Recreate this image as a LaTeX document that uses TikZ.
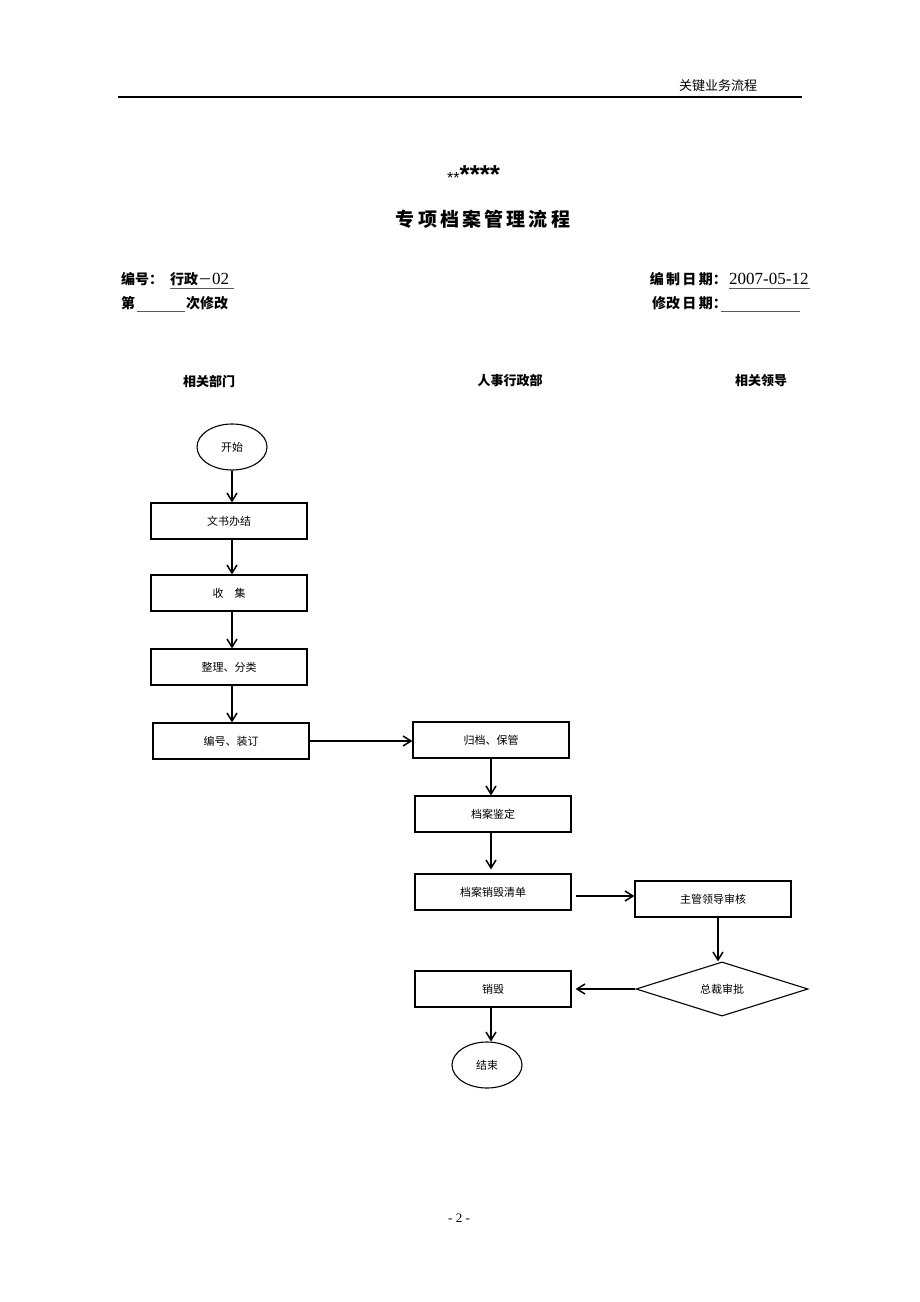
\documentclass[tikz,border=0pt]{standalone}
\usepackage{fontspec}
\setmainfont{Liberation Serif}
\newfontfamily\cjk{Noto Sans CJK SC}
\newfontfamily\lsans{Liberation Sans}
\usetikzlibrary{shapes.geometric,arrows.meta}
\begin{document}
\begin{tikzpicture}[x=1pt,y=-1pt,
  box/.style={draw,line width=1.2pt,minimum width=156pt,minimum height=36pt,inner sep=0pt,font=\fontsize{11}{13}\selectfont\cjk},
  term/.style={draw,ellipse,line width=1.1pt,minimum width=70pt,minimum height=46pt,inner sep=0pt,font=\fontsize{11}{13}\selectfont\cjk},
  dec/.style={draw,diamond,line width=1.1pt,minimum width=172pt,minimum height=48pt,inner sep=0pt,font=\fontsize{11}{13}\selectfont\cjk},
  arr/.style={line width=1.4pt,-{Straight Barb[length=8pt,width=10pt,line width=1.5pt]}},
  lane/.style={font=\fontsize{13}{15}\selectfont\cjk\bfseries},
  hd/.style={font=\fontsize{14}{16}\selectfont\cjk\bfseries,inner sep=0pt},
  uline/.style={line width=0.9pt,gray!70!black}
]
\useasboundingbox (0,0) rectangle (920,1302);
% page header
\node[font=\fontsize{13}{15}\selectfont\cjk] (ph) at (718,86) {关键业务流程};
\draw[line width=1.6pt] (118,97) coordinate (hl) -- (802,97) coordinate (hr);
% title
\node[inner sep=0pt,anchor=west] (stars) at (447,175) {{\lsans\fontsize{16}{18}\selectfont **}{\lsans\bfseries\fontsize{26}{28}\selectfont ****}};
\node[font=\fontsize{19}{21}\selectfont\cjk\bfseries] (title) at (483,219) {专\,项\,档\,案\,管\,理\,流\,程};
% info lines
\node[hd,anchor=west] (bh) at (121,279) {编号：};
\node[hd,anchor=west] (bhv) at (170,279) {行政{\mdseries\cjk －}{\mdseries\fontsize{17}{19}\selectfont\rmfamily 02}};
\draw[uline] (170,288) coordinate (u1a) -- (234,288) coordinate (u1b);
\node[hd,anchor=west] (di) at (121,303) {第};
\draw[uline] (137,311) coordinate (u2a) -- (185,311) coordinate (u2b);
\node[hd,anchor=west] (ci) at (186,303) {次修改};
\node[hd,anchor=east] (bz) at (727,279) {编\,制\,日\,期：};
\node[font=\fontsize{17}{19}\selectfont\rmfamily,anchor=west,inner sep=0pt] (bzv) at (729,279) {2007-05-12};
\draw[uline] (729,288) coordinate (u3a) -- (810,288) coordinate (u3b);
\node[hd,anchor=east] (xg) at (727,303) {修改\,日\,期：};
\draw[uline] (721,311) coordinate (u4a) -- (800,311) coordinate (u4b);
% lanes
\node[lane] (l1) at (209,381) {相关部门};
\node[lane] (l2) at (510,381) {人事行政部};
\node[lane] (l3) at (761,381) {相关领导};
% nodes
\node[term] (start) at (232,447) {开始};
\node[box] (b1) at (229,521) {文书办结};
\node[box] (b2) at (229,593) {收\quad 集};
\node[box] (b3) at (229,667) {整理、分类};
\node[box] (b4) at (231,741) {编号、装订};
\node[box] (g1) at (491,740) {归档、保管};
\node[box] (g2) at (493,814) {档案鉴定};
\node[box] (g3) at (493,892) {档案销毁清单};
\node[box] (zg) at (713,899) {主管领导审核};
\node[dec] (zc) at (722,989) {总裁审批};
\node[box] (xh) at (493,989) {销毁};
\node[term] (en) at (487,1065) {结束};
% connectors
\draw[arr] (start.south) -- (start.south |- b1.north);
\draw[arr] (start.south |- b1.south) -- (start.south |- b2.north);
\draw[arr] (start.south |- b2.south) -- (start.south |- b3.north);
\draw[arr] (start.south |- b3.south) -- (start.south |- b4.north);
\draw[arr] (b4.east) -- (b4.east -| g1.west);
\draw[arr] (g1.south) -- (g1.south |- g2.north);
\draw[arr] (g1.south |- g2.south) -- ([shift={(0,-4)}]g1.south |- g3.north);
\draw[arr] ([shift={(4,4)}]g3.east) -- ([shift={(0,-3)}]zg.west);
\draw[arr] ([shift={(5,0)}]zg.south) -- ([shift={(5,0)}]zg.south |- zc.north);
\draw[arr] (zc.west) -- ([shift={(4,0)}]xh.east);
\draw[arr] ([shift={(-2,0)}]xh.south) -- ([shift={(-2,0)}]xh.south |- en.north);
% page number
\node[font=\fontsize{13}{15}\selectfont\rmfamily] (pn) at (459,1218) {- 2 -};
\end{tikzpicture}
\end{document}
